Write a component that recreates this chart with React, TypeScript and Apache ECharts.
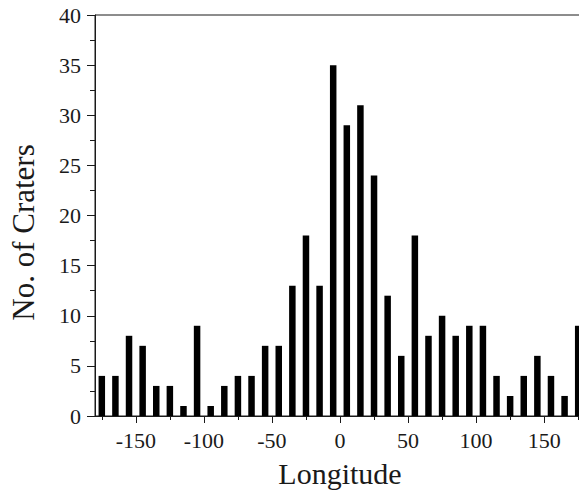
import React, { useEffect, useRef } from "react";
import * as echarts from "echarts";

const longitudes = [
  -175, -165, -155, -145, -135, -125, -115, -105, -95, -85, -75, -65,
  -55, -45, -35, -25, -15, -5, 5, 15, 25, 35, 45, 55, 65, 75, 85, 95,
  105, 115, 125, 135, 145, 155, 165, 175,
];
const craterCounts = [
  4, 4, 8, 7, 3, 3, 1, 9, 1, 3, 4, 4, 7, 7, 13, 18, 13, 35, 29, 31, 24,
  12, 6, 18, 8, 10, 8, 9, 9, 4, 2, 4, 6, 4, 2, 9,
];
const xMajorTicks = [-150, -100, -50, 0, 50, 100, 150];
const xMinorTicks = [-175, -125, -75, -25, 25, 75, 125, 175];

const FONT = "'Liberation Serif', 'Times New Roman', 'DejaVu Serif', serif";
const INK = "#1a1a1a";

export default function App() {
  const ref = useRef<HTMLDivElement>(null);
  useEffect(() => {
    if (!ref.current) return;
    const chart = echarts.init(ref.current, undefined, { renderer: "svg" });
    chart.setOption({
      animation: false,
      backgroundColor: "#ffffff",
      grid: {
        left: 91,
        right: 0,
        top: 15,
        bottom: 78,
        show: true,
        borderColor: INK,
        borderWidth: 1,
        backgroundColor: "transparent",
      },
      xAxis: [
        {
          type: "value",
          min: -180,
          max: 180,
          interval: 10,
          name: "Longitude",
          nameLocation: "middle",
          nameGap: 42,
          nameTextStyle: { fontFamily: FONT, fontSize: 30, color: INK },
          axisLine: { show: true, onZero: false, lineStyle: { color: INK, width: 1 } },
          axisTick: {
            show: true,
            inside: false,
            length: 7,
            customValues: xMajorTicks,
            lineStyle: { color: INK },
          },
          axisLabel: {
            show: true,
            customValues: xMajorTicks,
            margin: 13,
            fontFamily: FONT,
            fontSize: 22,
            color: INK,
          },
          splitLine: { show: false },
        },
        {
          type: "value",
          min: -180,
          max: 180,
          interval: 10,
          position: "bottom",
          axisLine: { show: false, onZero: false },
          axisTick: {
            show: true,
            inside: false,
            length: 4,
            customValues: xMinorTicks,
            lineStyle: { color: INK },
          },
          axisLabel: { show: false },
          splitLine: { show: false },
        },
      ],
      yAxis: {
        type: "value",
        min: 0,
        max: 40,
        interval: 5,
        name: "No. of Craters",
        nameLocation: "middle",
        nameGap: 56,
        nameTextStyle: {
          fontFamily: FONT,
          fontSize: 31,
          color: INK,
          padding: [0, 34, 0, 0],
        },
        axisLine: { show: true, onZero: false, lineStyle: { color: INK, width: 1 } },
        axisTick: { show: true, inside: false, length: 8, lineStyle: { color: INK } },
        minorTick: { show: true, splitNumber: 2, length: 5, lineStyle: { color: INK } },
        axisLabel: { margin: 14, fontFamily: FONT, fontSize: 22, color: INK },
        splitLine: { show: false },
        minorSplitLine: { show: false },
      },
      series: [
        {
          type: "bar",
          xAxisIndex: 0,
          barWidth: 6.5,
          itemStyle: { color: "#000000" },
          data: longitudes.map((x, i) => [x, craterCounts[i]]),
        },
      ],
    });
    return () => chart.dispose();
  }, []);
  return (
    <div
      ref={ref}
      style={{ position: "fixed", left: 0, top: 0, width: 585, height: 494 }}
    />
  );
}
